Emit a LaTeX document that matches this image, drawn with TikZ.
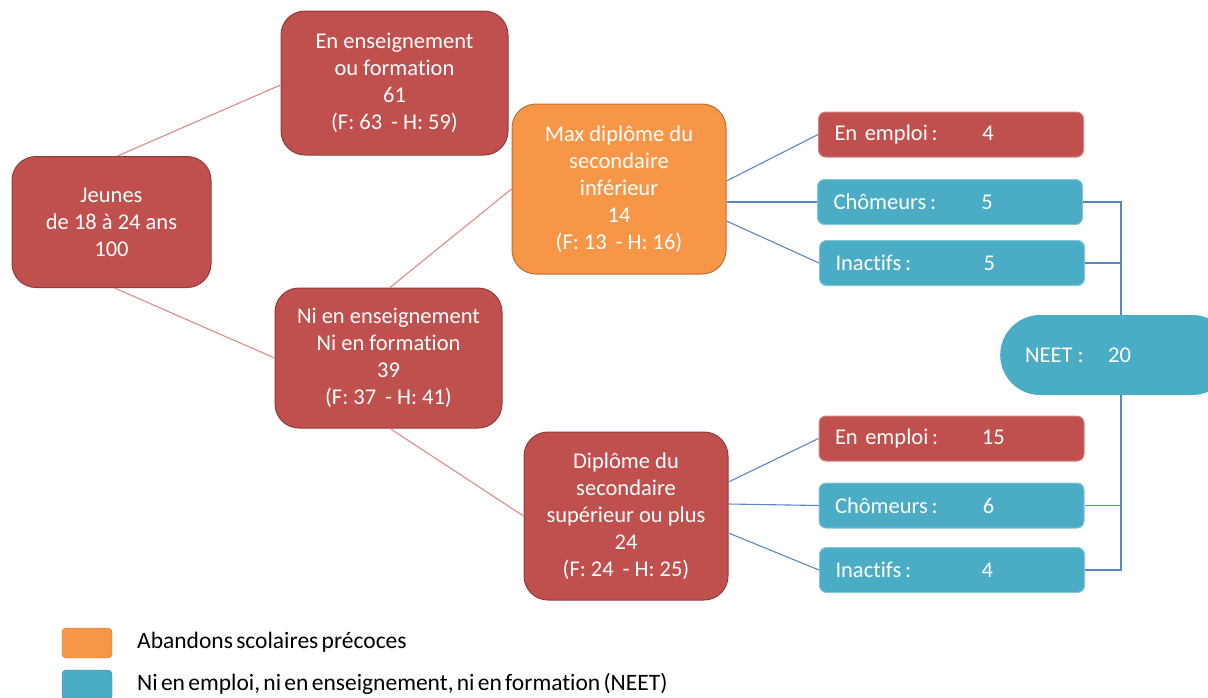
\documentclass[tikz,border=0pt]{standalone}
\usepackage{fontspec}
\setmainfont{Carlito}[Ligatures=NoCommon]
\newcommand\tightspc{\spaceskip=0.14em plus 0.02em\relax}
\begin{document}
\begin{tikzpicture}[x=1pt,y=-1pt,
  font=\fontsize{22.5}{27}\selectfont,
  big/.style={rounded corners=24pt,draw=#1!75!black,line width=1pt,fill=#1,text=white,align=center,inner sep=0pt},
  small/.style={rounded corners=7pt,draw=#1!70!white,line width=1pt,fill=#1,text=white,align=left,inner ysep=0pt,inner xsep=16pt,text width=233pt,minimum height=45pt},
  rline/.style={draw=linkred,line width=1.1pt},
  bline/.style={draw=linkblue,line width=1.1pt},
  legtext/.style={anchor=west,inner sep=0pt,font=\fontsize{23.5}{24}\selectfont},
]
\definecolor{ored}{HTML}{C0504D}
\definecolor{oorange}{HTML}{F79646}
\definecolor{oblue}{HTML}{4BACC6}
\definecolor{linkred}{HTML}{D98C8A}
\definecolor{linkblue}{HTML}{5B86C4}
\useasboundingbox (0,0) rectangle (1208,697);

\node[big=ored,minimum width=199pt,minimum height=131pt] (jeunes) at (111.5,222) {Jeunes\\de 18 à 24 ans\\100};
\node[big=ored,minimum width=227pt,minimum height=144pt] (ens) at (394.5,83) {En enseignement\\ou formation\\61\\(F: 63 \,- H: 59)};
\node[big=ored,minimum width=227pt,minimum height=140pt] (ni) at (388.5,358) {Ni en enseignement\\Ni en formation\\39\\(F: 37 \,- H: 41)};
\node[big=oorange,minimum width=214pt,minimum height=170pt] (max) at (619,189) {Max diplôme du\\secondaire\\inférieur\\14\\(F: 13 \,- H: 16)};
\node[big=ored,minimum width=204pt,minimum height=168pt] (dip) at (626,516) {Diplôme du\\secondaire\\supérieur ou plus\\24\\(F: 24 \,- H: 25)};

\node[small=ored] (e1) at (951,134.5) {\makebox[148pt][l]{En emploi\,:}4};
\node[small=oblue] (c1) at (950,202) {\makebox[148pt][l]{Chômeurs\,:}5};
\node[small=oblue] (i1) at (952,263) {\makebox[148pt][l]{Inactifs\,:}5};
\node[small=ored] (e2) at (951.5,438.5) {\makebox[147pt][l]{En emploi\,:}15};
\node[small=oblue] (c2) at (951.5,505.5) {\makebox[148pt][l]{Chômeurs\,:}6};
\node[small=oblue] (i2) at (952,570) {\makebox[146pt][l]{Inactifs\,:}4};

\node[fill=oblue,rounded corners=40pt,minimum width=232pt,minimum height=80pt,inner sep=0pt,text=white,anchor=west] (neet) at (1000,355) {\makebox[232pt][l]{\hspace*{25pt}\makebox[83pt][l]{NEET :}20}};

% connectors
\draw[rline] ([xshift=6pt]jeunes.north) -- ([yshift=-2pt]ens.west);
\draw[rline] ([xshift=3pt]jeunes.south) -- (ni.west);
\draw[rline] ([xshift=1.5pt]ni.north) -- (max.west);
\draw[rline] ([xshift=1.5pt]ni.south) -- (dip.west);

\draw[bline] ([yshift=8pt]max.east) -- (e1.west);
\draw[bline] ([yshift=-13pt]max.east) -- (c1.west);
\draw[bline] ([yshift=-32pt]max.east) -- (i1.west);
\draw[bline] ([yshift=34pt]dip.east) -- (e2.west);
\draw[bline] ([yshift=12pt]dip.east) -- (c2.west);
\draw[bline] ([yshift=-17pt]dip.east) -- (i2.west);

\coordinate (bus) at (1121,0);
\draw[bline] (c1.east) -| (bus |- neet.north);
\draw[bline] (i1.east) -| (bus |- neet.north);
\draw[bline] (c2.east) -| (bus |- neet.south);
\draw[bline] (i2.east) -| (bus |- neet.south);

% legend
\node[fill=oorange,draw=oorange!80!black,rounded corners=4pt,minimum width=50pt,minimum height=30pt,inner sep=0pt] (lo) at (87,643) {};
\node[fill=oblue,draw=oblue!80!black,rounded corners=4pt,minimum width=50pt,minimum height=30pt,inner sep=0pt] (lb) at (87,685) {};
\node[legtext] (lot) at (137,642) {\tightspc Abandons scolaires précoces};
\node[legtext] (lbt) at (137,684) {\tightspc Ni en emploi, ni en enseignement, ni en formation (NEET)};
\end{tikzpicture}
\end{document}
